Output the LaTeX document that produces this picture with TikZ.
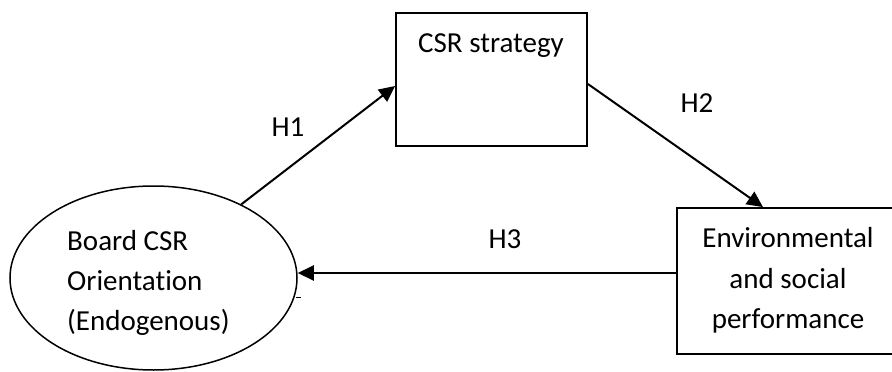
\documentclass[tikz,border=0pt]{standalone}
\usepackage{fontspec}
\setmainfont[Ligatures={NoCommon}]{Carlito}
\usetikzlibrary{shapes.geometric,arrows.meta}
\begin{document}
\begin{tikzpicture}[x=1pt,y=-1pt,
  lbl/.style={inner sep=0pt, anchor=base, font=\fontsize{29}{40}\selectfont},
  box/.style={draw, line width=1.8pt, inner sep=0pt},
  conn/.style={line width=2pt, -{Triangle[length=16pt,width=15pt]}}]
\useasboundingbox (0,0) rectangle (892,372);
% shapes
\node[draw, ellipse, line width=1.5pt, minimum width=287pt, minimum height=184pt, inner sep=0pt] (board) at (153.5,278) {};
\node[box, minimum width=191pt, minimum height=133pt] (csr) at (491.5,79.5) {};
\node[box, minimum width=224pt, minimum height=146pt] (env) at (789,281) {};
% texts
\node[lbl] (csrt) at (491,52) {CSR strategy};
\node[lbl, anchor=base west] (b1) at (67,250) {Board CSR};
\node[lbl, anchor=base west] (b2) at (67,290) {Orientation};
\node[lbl, anchor=base west] (b3) at (67,330) {(Endogenous)};
\node[lbl] (e1) at (788,247) {Environmental};
\node[lbl] (e2) at (788,288) {and social};
\node[lbl] (e3) at (788,328) {performance};
\node[lbl] (h1) at (288,136) {H1};
\node[lbl] (h2) at (697,112) {H2};
\node[lbl] (h3) at (505,248) {H3};
% connectors
\draw[conn] (board.40) -- ([yshift=-6.5pt]csr.west);
\draw[conn] ([yshift=-4.5pt]csr.east) -- ([xshift=-26pt]env.north);
\draw[conn] ([yshift=8pt]env.west) -- ([yshift=5pt]board.east);
% small stray tick beside the ellipse
\coordinate (tk) at (296,297);
\draw[line width=1pt] (tk) -- ++(5,0);
\end{tikzpicture}
\end{document}
